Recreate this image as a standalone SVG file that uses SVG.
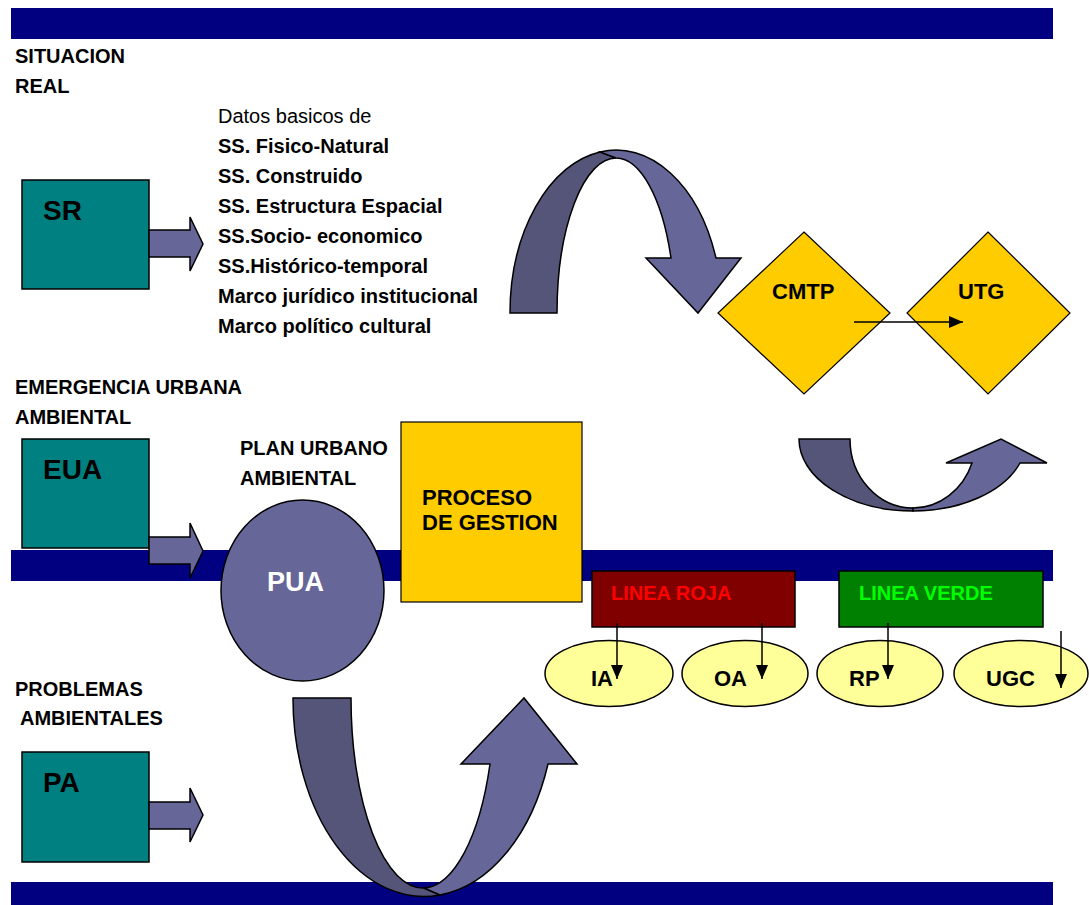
<svg xmlns="http://www.w3.org/2000/svg" width="1089" height="905" viewBox="0 0 1089 905">
<style>
.bar{fill:#000080}
.t{font-family:"Liberation Sans",Arial,sans-serif;font-weight:bold;fill:#000}
.s{font-size:20px}
.m{font-size:22px}
.b{font-size:28px}
.box{fill:#008080;stroke:#000;stroke-width:1.5}
.fat{fill:#666699;stroke:#000;stroke-width:1.5;stroke-linejoin:miter}
.dark{fill:#55557a;stroke:#000;stroke-width:1.5}
.dia{fill:#FFCC00;stroke:#000;stroke-width:1.2}
.ell{fill:#FFFF99;stroke:#000;stroke-width:1.5}
.ln{stroke:#000;stroke-width:1.5;fill:none}
</style>
<defs>
<marker id="ah2" markerWidth="14" markerHeight="12" refX="14" refY="6" orient="auto" markerUnits="userSpaceOnUse" viewBox="0 0 14 12">
<path d="M0,0 L14,6 L0,12 Z" fill="#000"/>
</marker>
</defs>
<rect width="1089" height="905" fill="#fff"/>
<g id="bars">
<rect class="bar" x="11" y="8" width="1042" height="31"/>
<rect class="bar" x="11" y="550" width="1042" height="31"/>
<rect class="bar" x="11" y="882" width="1042" height="23"/>
</g>
<g id="labels">
<text class="t s" x="15" y="63">SITUACION</text>
<text class="t s" x="15" y="93">REAL</text>
<text class="t s" x="15" y="394">EMERGENCIA URBANA</text>
<text class="t s" x="15" y="424">AMBIENTAL</text>
<text class="t s" x="15" y="696">PROBLEMAS</text>
<text class="t s" x="20" y="725">AMBIENTALES</text>
<text class="t s" x="240" y="455">PLAN URBANO</text>
<text class="t s" x="240" y="485">AMBIENTAL</text>
</g>
<g id="datos">
<text x="218" y="123" style="font-family:'Liberation Sans',Arial,sans-serif;font-size:20px;fill:#000">Datos basicos de</text>
<text class="t s" x="218" y="153">SS. Fisico-Natural</text>
<text class="t s" x="218" y="183">SS. Construido</text>
<text class="t s" x="218" y="213">SS. Estructura Espacial</text>
<text class="t s" x="218" y="243">SS.Socio- economico</text>
<text class="t s" x="218" y="273">SS.Histórico-temporal</text>
<text class="t s" x="218" y="303">Marco jurídico institucional</text>
<text class="t s" x="218" y="333">Marco político cultural</text>
</g>
<g id="SR">
<rect class="box" x="22" y="180" width="127" height="109"/>
<text class="t b" x="43" y="220">SR</text>
<path class="fat" d="M149,230 L190,230 L190,217 L203,244 L190,271 L190,257 L149,257 Z"/>
</g>
<g id="EUA">
<rect class="box" x="22" y="439" width="127" height="109"/>
<text class="t b" x="43" y="479">EUA</text>
<path class="fat" d="M149,537 L190,537 L190,523 L203,551 L190,578 L190,564 L149,564 Z"/>
</g>
<g id="PA">
<rect class="box" x="22" y="752" width="127" height="110"/>
<text class="t b" x="43" y="792">PA</text>
<path class="fat" d="M149,802 L190,802 L190,788 L203,815 L190,842 L190,829 L149,829 Z"/>
</g>
<g id="curved-top">
<path class="dark" d="M510,313 A106,163 0 0 1 600,152 L616,158 A59,155 0 0 0 557,313 Z"/>
<path class="fat" d="M600,152 A106,163 0 0 1 716,258 L741,258 L698,313 L646,258 L671,258 A59,155 0 0 0 616,158 Z"/>
</g>
<g id="curved-right">
<path class="dark" d="M799,439 A114,72 0 0 0 913,511 L913,508 A63,69 0 0 1 850,439 Z"/>
<path class="fat" d="M913,508 A63,69 0 0 0 972,463 L946,463 L1001,439 L1047,463 L1020,463 A114,72 0 0 1 913,511 Z"/>
</g>
<g id="curved-bottom">
<path class="dark" d="M293,698 L351,698 A72,190 0 0 0 424,888 L440,895 A131,198 0 0 1 293,698 Z"/>
<path class="fat" d="M424,888 A72,190 0 0 0 490,764 L461,764 L524,698 L577,764 L548,764 A131,198 0 0 1 440,895 Z"/>
</g>
<g id="PUA">
<ellipse cx="302.5" cy="590.5" rx="81.5" ry="90.5" class="fat"/>
<text class="t" x="267" y="591" style="font-size:27px;fill:#fff">PUA</text>
</g>
<g id="PROCESO">
<rect x="401" y="422" width="181" height="180" fill="#FFCC00" stroke="#000" stroke-width="1.2"/>
<text class="t m" x="422" y="505">PROCESO</text>
<text class="t m" x="422" y="530">DE GESTION</text>
</g>
<g id="CMTP">
<path class="dia" d="M804,232 L890,313 L804,394 L718,313 Z"/>
<text class="t m" x="772" y="299">CMTP</text>
</g>
<g id="UTG">
<path class="dia" d="M988,232 L1070,313 L988,394 L907,313 Z"/>
<text class="t m" x="958" y="299">UTG</text>
</g>
<g id="LINEA-ROJA">
<rect x="592" y="571" width="203" height="56" fill="#800000" stroke="#000" stroke-width="1.5"/>
<text class="t s" x="611" y="600" style="fill:#FF0000">LINEA ROJA</text>
</g>
<g id="LINEA-VERDE">
<rect x="839" y="571" width="204" height="56" fill="#008000" stroke="#000" stroke-width="1.5"/>
<text class="t s" x="859" y="600" style="fill:#00FF00">LINEA VERDE</text>
</g>
<g id="IA">
<ellipse class="ell" cx="609" cy="673.5" rx="64" ry="33"/>
<text class="t m" x="591" y="686">IA</text>
</g>
<g id="OA">
<ellipse class="ell" cx="745" cy="673.5" rx="63" ry="33"/>
<text class="t m" x="714" y="686">OA</text>
</g>
<g id="RP">
<ellipse class="ell" cx="880" cy="673.5" rx="63" ry="33"/>
<text class="t m" x="849" y="686">RP</text>
</g>
<g id="UGC">
<ellipse class="ell" cx="1021" cy="673.5" rx="67" ry="33"/>
<text class="t m" x="986" y="686">UGC</text>
</g>
<g id="connectors">
<line class="ln" x1="854" y1="322" x2="963" y2="322" marker-end="url(#ah2)"/>
<line class="ln" x1="617" y1="623" x2="617" y2="679" marker-end="url(#ah2)"/>
<line class="ln" x1="762" y1="623" x2="762" y2="679" marker-end="url(#ah2)"/>
<line class="ln" x1="888" y1="623" x2="888" y2="679" marker-end="url(#ah2)"/>
<line class="ln" x1="1061" y1="631" x2="1061" y2="688" marker-end="url(#ah2)"/>
</g>
</svg>
